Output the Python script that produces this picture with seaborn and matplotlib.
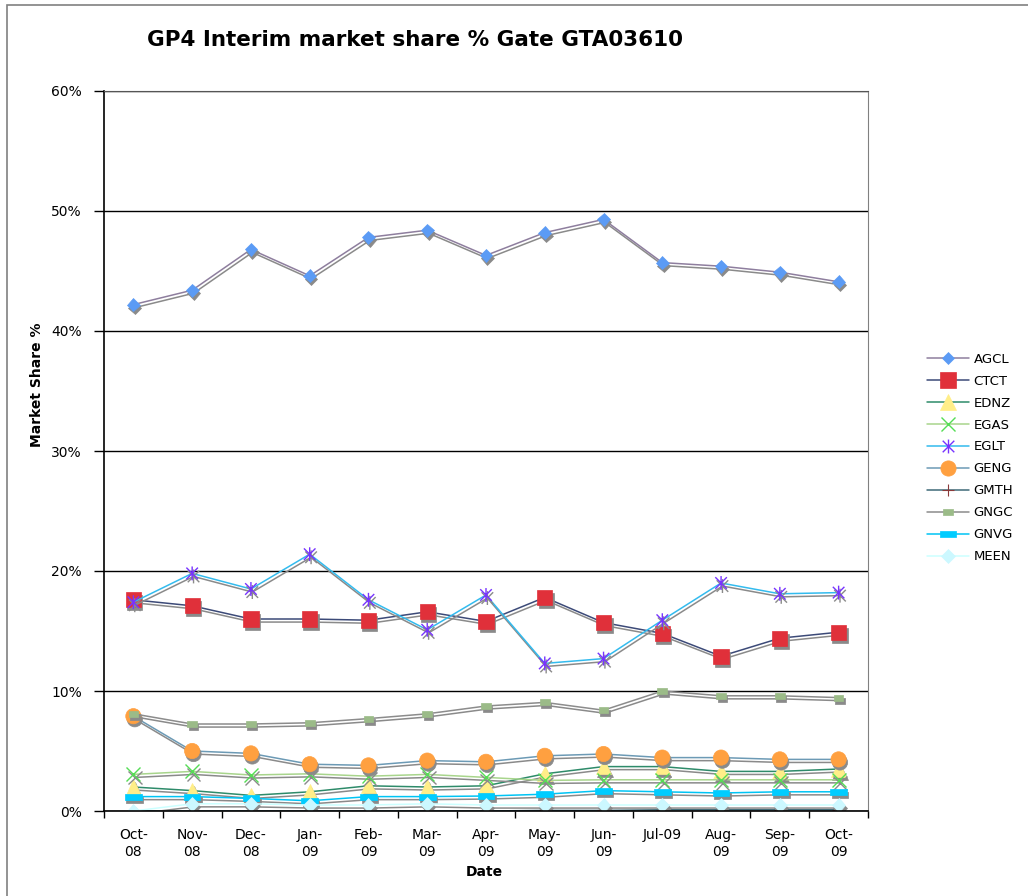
import matplotlib
matplotlib.use('Agg')
import matplotlib.pyplot as plt
import matplotlib.patheffects as pe
from matplotlib.colors import to_rgba
from matplotlib.path import Path
from matplotlib.patches import Rectangle
from matplotlib.ticker import FixedLocator, PercentFormatter
import seaborn as sns
import pandas as pd

# ── Données ─────────────────────────────────────────────────────────
dates = ['Oct-\n08', 'Nov-\n08', 'Dec-\n08', 'Jan-\n09', 'Feb-\n09', 'Mar-\n09', 'Apr-\n09',
         'May-\n09', 'Jun-\n09', 'Jul-09', 'Aug-\n09', 'Sep-\n09', 'Oct-\n09']

agcl = [42.2, 43.4, 46.8, 44.6, 47.8, 48.4, 46.3, 48.2, 49.3, 45.7, 45.4, 44.9, 44.1]
ctct = [17.6, 17.1, 16.0, 16.0, 15.9, 16.6, 15.8, 17.8, 15.7, 14.8, 12.9, 14.4, 14.9]
ednz = [2.0, 1.7, 1.3, 1.6, 2.1, 2.0, 2.1, 3.1, 3.7, 3.7, 3.3, 3.3, 3.5]
egas = [3.05, 3.3, 3.0, 3.1, 2.9, 3.05, 2.8, 2.55, 2.6, 2.6, 2.6, 2.6, 2.6]
eglt = [17.4, 19.8, 18.5, 21.4, 17.6, 15.1, 18.0, 12.3, 12.7, 15.9, 19.0, 18.1, 18.2]
geng = [7.9, 5.0, 4.8, 3.9, 3.8, 4.2, 4.1, 4.6, 4.75, 4.45, 4.45, 4.3, 4.3]
gmth = [0.0, 0.0, 0.0, 0.0, 0.0, 0.0, 0.0, 0.05, 0.05, 0.1, 0.1, 0.1, 0.1]
gngc = [8.1, 7.25, 7.25, 7.35, 7.7, 8.1, 8.75, 9.05, 8.4, 10.0, 9.6, 9.6, 9.45]
gnvg = [1.2, 1.2, 1.05, 0.85, 1.2, 1.2, 1.25, 1.4, 1.7, 1.6, 1.5, 1.6, 1.6]
meen = [0.0, 0.6, 0.6, 0.5, 0.5, 0.6, 0.5, 0.5, 0.5, 0.5, 0.5, 0.5, 0.5]

series_names = ['AGCL', 'CTCT', 'EDNZ', 'EGAS', 'EGLT', 'GENG', 'GMTH', 'GNGC', 'GNVG', 'MEEN']
series_values = [agcl, ctct, ednz, egas, eglt, geng, gmth, gngc, gnvg, meen]

# ── Marqueurs façon Excel ───────────────────────────────────────────
star = Path([(-1, -1), (1, 1), (-1, 1), (1, -1), (0, -1.2), (0, 1.2)],
            [Path.MOVETO, Path.LINETO, Path.MOVETO, Path.LINETO, Path.MOVETO, Path.LINETO])
small_rect = [(-1, -0.6), (1, -0.6), (1, 0.6), (-1, 0.6), (-1, -0.6)]
wide_rect = [(-1, -0.35), (1, -0.35), (1, 0.35), (-1, 0.35), (-1, -0.35)]

# nom: (couleur ligne, marqueur, taille, face, bord, épaisseur bord)
styles = {
    'AGCL': ('#8E7E9E', 'D', 6.5, '#5B9BF5', '#5B9BF5', 0.5),
    'CTCT': ('#3C4A78', 's', 11, '#E0303A', '#E0303A', 0.5),
    'EDNZ': ('#2E8B6A', '^', 11, '#FFEE88', '#FFEE88', 0.5),
    'EGAS': ('#A8D58C', 'x', 10, '#55DD55', '#55DD55', 1.0),
    'EGLT': ('#33BBEE', star, 10, '#7733FF', '#7733FF', 1.0),
    'GENG': ('#6C9AB5', 'o', 11, '#FFA040', '#FFA040', 0.5),
    'GMTH': ('#3F6A78', '+', 9, '#8B3A3A', '#8B3A3A', 0.8),
    'GNGC': ('#8C8C8C', small_rect, 7, '#9BBB88', '#9BBB88', 0.5),
    'GNVG': ('#00C4F4', wide_rect, 12, '#00CCFF', '#00CCFF', 0.5),
    'MEEN': ('#CCFFFF', 'D', 7, '#CCF8FF', '#CCF8FF', 0.5),
}


class GrayShadow(pe.AbstractPathEffect):
    """Ombre grise décalée (lignes + marqueurs pleins), comme dans Excel."""

    def __init__(self, offset=(1, -2.2), color='#8A8A8A'):
        super().__init__(offset)
        self.color = color

    def draw_path(self, renderer, gc, tpath, affine, rgbFace=None):
        gc0 = renderer.new_gc()
        gc0.copy_properties(gc)
        gc0.set_foreground(self.color)
        gc0.set_alpha(1.0)
        face = to_rgba(self.color) if rgbFace is not None else None
        renderer.draw_path(gc0, tpath, affine + self._offset_transform(renderer), face)
        gc0.restore()


df = pd.DataFrame({'x': list(range(len(dates))) * len(series_names),
                   'share': [v for vals in series_values for v in vals],
                   'company': [n for n in series_names for _ in dates]})

sns.set_style('white')
plt.rcParams['font.family'] = ['DejaVu Sans']
plt.rcParams['text.color'] = 'black'
plt.rcParams['xtick.color'] = 'black'
plt.rcParams['ytick.color'] = 'black'

fig = plt.figure(figsize=(10.28, 8.96), dpi=100)
ax = fig.add_axes([104 / 1028, 85 / 896, 764 / 1028, 720 / 896])

shadow = [GrayShadow(), pe.Normal()]

for name in series_names:
    lc, m, ms, fc, ec, mew = styles[name]
    sub = df[df['company'] == name]
    sns.lineplot(data=sub, x='x', y='share', ax=ax, color=lc, linewidth=1.1,
                 marker=m, markersize=ms, markerfacecolor=fc, markeredgecolor=ec,
                 markeredgewidth=mew, label=name, path_effects=shadow)

ax.set_xlim(-0.5, len(dates) - 0.5)
ax.set_ylim(0, 60)
ax.yaxis.set_major_locator(FixedLocator(range(0, 61, 10)))
ax.yaxis.set_major_formatter(PercentFormatter(decimals=0))
ax.set_xticks(range(len(dates)))
ax.set_xticklabels(dates, fontsize=10, linespacing=1.3)
ax.xaxis.set_minor_locator(FixedLocator([i - 0.5 for i in range(len(dates) + 1)]))
ax.tick_params(axis='x', which='major', length=0, pad=12, labelcolor='black')
ax.tick_params(axis='x', which='minor', direction='out', length=5, width=1, color='black', bottom=True)
ax.tick_params(axis='y', which='major', direction='out', length=7, width=1, color='black',
               left=True, labelsize=10, pad=9, labelcolor='black')

ax.yaxis.grid(True, color='black', linewidth=1)
ax.xaxis.grid(False)
ax.set_axisbelow(True)
for s in ['left', 'bottom']:
    ax.spines[s].set_color('black')
    ax.spines[s].set_linewidth(1.2)
ax.spines['right'].set_color('#808080')
ax.spines['top'].set_color('#555555')
ax.set_xlabel('')
ax.set_ylabel('')

leg_ax = ax.get_legend()
if leg_ax is not None:
    leg_ax.remove()
handles, labels = ax.get_legend_handles_labels()
leg = fig.legend(handles, labels, loc='upper left', bbox_to_anchor=(920 / 1028, 1 - 346 / 896),
                 frameon=False, fontsize=9.5, handlelength=3.2, handletextpad=0.35,
                 labelspacing=0.68, borderpad=0, labelcolor='black')
for h in leg.legend_handles:
    h.set_path_effects([])

fig.text(415 / 1028, 1 - 40 / 896, 'GP4 Interim market share % Gate GTA03610',
         ha='center', va='center', fontsize=15.5, fontweight='bold', color='black')
fig.text(37 / 1028, 1 - 385 / 896, 'Market Share %', rotation=90, ha='center', va='center',
         fontsize=10, fontweight='bold', color='black')
fig.text(484 / 1028, 1 - 872 / 896, 'Date', ha='center', va='center', fontsize=10,
         fontweight='bold', color='black')

fig.patches.append(Rectangle((7 / 1028, -0.2), 1.2, 1.2 - 5 / 896, transform=fig.transFigure,
                             fill=False, edgecolor='#808080', linewidth=1.2))

fig.savefig('out.png', dpi=100)
